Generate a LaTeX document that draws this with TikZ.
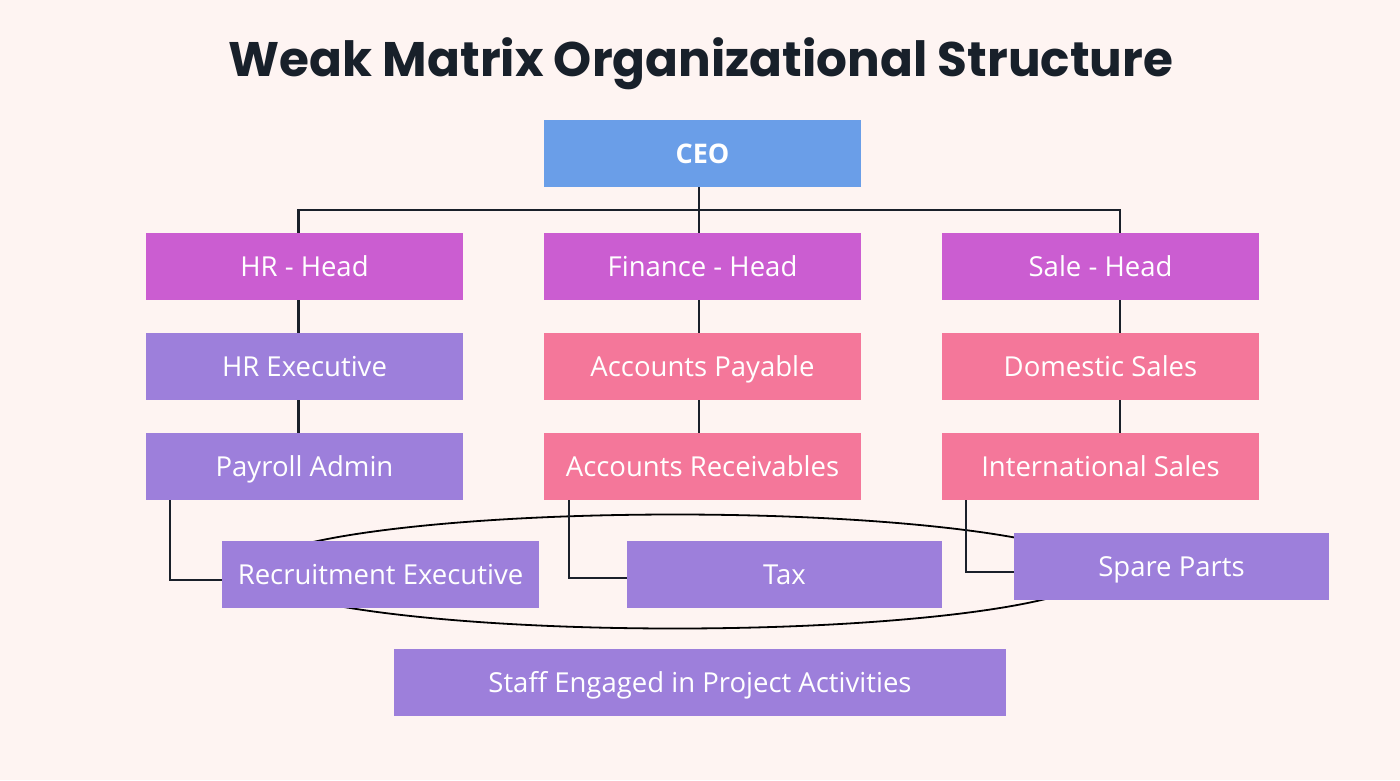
\documentclass[tikz,border=0pt]{standalone}
\usepackage{fontspec}
\setmainfont{Open Sans}
\newfontfamily\titlefont{Poppins}
\definecolor{bg}{HTML}{FEF4F2}
\definecolor{ceoc}{HTML}{6A9EE8}
\definecolor{headc}{HTML}{CB5DD1}
\definecolor{purc}{HTML}{9D7FDB}
\definecolor{pinkc}{HTML}{F4779A}
\definecolor{linec}{HTML}{1A202A}
\definecolor{titlec}{HTML}{18202A}
\tikzset{
  box/.style={minimum width=317pt, minimum height=67pt, inner sep=0pt,
    text=white, text height=19.5pt, text depth=0pt,
    font=\fontsize{27.5}{32}\selectfont},
  conn/.style={draw=linec, line width=2.2pt},
}
\begin{document}
\begin{tikzpicture}[x=1pt,y=-1pt]
\fill[bg] (0,0) rectangle (1400,780);
\useasboundingbox (0,0) rectangle (1400,780);

% ellipse behind boxes
\draw[black, line width=1.8pt] (675,571.5) ellipse [x radius=423, y radius=57];

\node[anchor=base, text=titlec, font=\titlefont\bfseries\fontsize{48.5}{52}\selectfont] (title) at (701,76) {Weak Matrix Organizational Structure};

\node[box, fill=ceoc, font=\bfseries\fontsize{27}{32}\selectfont] (ceo) at (702.5,153.5) {CEO};

\node[box, fill=headc] (hr) at (304.5,266.5) {HR - Head};
\node[box, fill=headc] (fin) at (702.5,266.5) {Finance - Head};
\node[box, fill=headc] (sale) at (1100.5,266.5) {Sale - Head};

\node[box, fill=purc] (hrx) at (304.5,366.5) {HR Executive};
\node[box, fill=pinkc] (ap) at (702.5,366.5) {Accounts Payable};
\node[box, fill=pinkc] (ds) at (1100.5,366.5) {Domestic Sales};

\node[box, fill=purc] (pay) at (304.5,466.5) {Payroll Admin};
\node[box, fill=pinkc] (ar) at (702.5,466.5) {Accounts Receivables};
\node[box, fill=pinkc] (is) at (1100.5,466.5) {International Sales};

\node[box, fill=purc] (rec) at (380.5,574.5) {Recruitment Executive};
\node[box, fill=purc, minimum width=315pt] (tax) at (784.5,574.5) {Tax};
\node[box, fill=purc, minimum width=315pt] (spare) at (1171.5,566.5) {Spare Parts};

\node[box, fill=purc, minimum width=612pt] (staff) at (700,682.5) {Staff Engaged in Project Activities};

% connectors
\draw[conn] ([xshift=-3.5pt]ceo.south) -- ([xshift=-3.5pt]fin.north);
\draw[conn] ([xshift=-6pt]hr.north) -- ++(0,-23) -| ([xshift=19.5pt]sale.north);

\draw[conn] ([xshift=-6pt]hr.south) -- ([xshift=-6pt]hrx.north);
\draw[conn] ([xshift=-6pt]hrx.south) -- ([xshift=-6pt]pay.north);
\draw[conn] ([xshift=-3.5pt]fin.south) -- ([xshift=-3.5pt]ap.north);
\draw[conn] ([xshift=-3.5pt]ap.south) -- ([xshift=-3.5pt]ar.north);
\draw[conn] ([xshift=19.5pt]sale.south) -- ([xshift=19.5pt]ds.north);
\draw[conn] ([xshift=19.5pt]ds.south) -- ([xshift=19.5pt]is.north);

\draw[conn] ([xshift=24pt]pay.south west) |- ([yshift=-5.5pt]rec.west);
\draw[conn] ([xshift=25pt]ar.south west) |- ([yshift=-3.5pt]tax.west);
\draw[conn] ([xshift=24pt]is.south west) |- ([yshift=-5.5pt]spare.west);
\end{tikzpicture}
\end{document}
